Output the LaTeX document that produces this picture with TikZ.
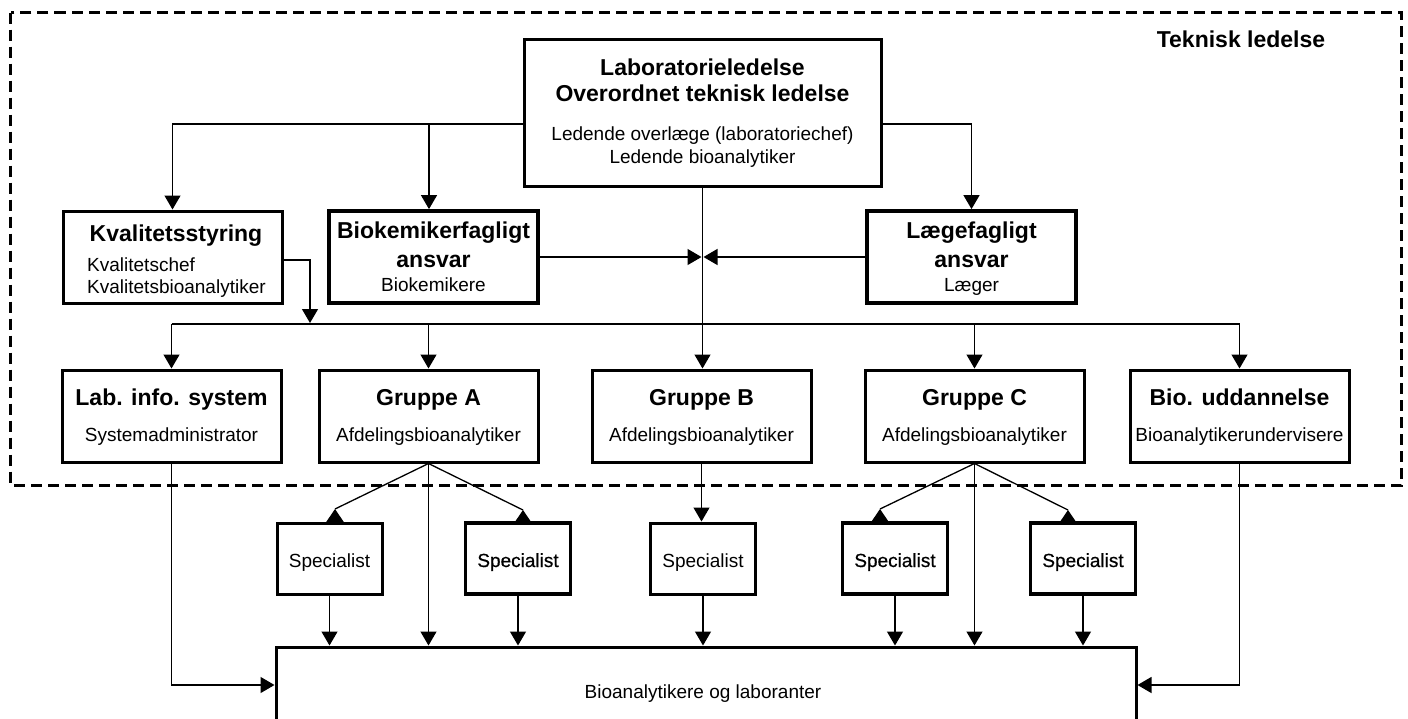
\documentclass[tikz,border=0pt]{standalone}
\usepackage{fontspec}
\setmainfont{Liberation Sans}
\newfontface\darkface{Liberation Sans}[FakeBold=0.6]
\usetikzlibrary{arrows.meta}

\begin{document}
\begin{tikzpicture}[x=1pt,y=-1pt,
  conn/.style={line width=1.3pt},
  arr/.style={conn,-{Triangle[width=16pt,length=14pt]}},
  box/.style={draw,rectangle,line width=3pt,inner sep=0pt},
  heavybox/.style={box,line width=3.8pt},
  frame/.style={line width=3pt,dash pattern=on 11pt off 6pt},
  hd/.style={font=\fontsize{23}{27}\selectfont\bfseries,anchor=base,inner sep=0pt},
  txt/.style={font=\fontsize{19}{22}\selectfont,anchor=base,inner sep=0pt},
  darktxt/.style={font=\fontsize{19}{22}\selectfont\darkface,anchor=base,inner sep=0pt},
  spec/.style={minimum width=105pt,minimum height=71pt}
]
\useasboundingbox (0,0) rectangle (1408,718);
\clip (0,0) rectangle (1408,718);

% technical management frame
\draw[frame] (10.5,12.5) rectangle (1401.5,485);
\node[hd] (tekn) at (1241,47) {Teknisk ledelse};

% boxes
\node[box,minimum width=357pt,minimum height=147pt] (lab) at (702.5,112.5) {};
\node[box,minimum width=219pt,minimum height=92pt] (kval) at (172.5,257) {};
\node[heavybox,minimum width=209pt,minimum height=92pt] (bio) at (433.5,257) {};
\node[heavybox,minimum width=209pt,minimum height=92pt] (laege) at (971.5,257) {};

\node[box,minimum width=219pt,minimum height=92pt] (lis) at (171.5,416) {};
\node[box,minimum width=219pt,minimum height=92pt] (grA) at (428.5,416) {};
\node[box,minimum width=219pt,minimum height=92pt] (grB) at (701.5,416) {};
\node[box,minimum width=219pt,minimum height=92pt] (grC) at (974.5,416) {};
\node[box,minimum width=219pt,minimum height=92pt] (bud) at (1239.5,416) {};

\node[box,spec] (s1) at (329.5,558.5) {};
\node[heavybox,spec] (s2) at (518,558.5) {};
\node[box,spec] (s3) at (703,558.5) {};
\node[heavybox,spec] (s4) at (895,558.5) {};
\node[heavybox,spec] (s5) at (1083,558.5) {};

\node[box,minimum width=860pt,minimum height=93pt] (base) at (706,693.5) {};

% texts
\node[hd] (lab1) at (702.5,75) {Laboratorieledelse};
\node[hd] (lab2) at (702.5,101) {Overordnet teknisk ledelse};
\node[txt] (lab3) at (702.5,140) {Ledende overlæge (laboratoriechef)};
\node[txt] (lab4) at (702.5,163) {Ledende bioanalytiker};

\node[hd] (kval1) at (176,241) {Kvalitetsstyring};
\node[txt,anchor=base west] (kval2) at (87,271) {Kvalitetschef};
\node[txt,anchor=base west] (kval3) at (87,293) {Kvalitetsbioanalytiker};

\node[hd] (bio1) at (433.5,238) {Biokemikerfagligt};
\node[hd] (bio2) at (433.5,267) {ansvar};
\node[txt] (bio3) at (433.5,291) {Biokemikere};

\node[hd] (laege1) at (971.5,238) {Lægefagligt};
\node[hd] (laege2) at (971.5,267) {ansvar};
\node[txt] (laege3) at (971.5,291) {Læger};

\node[hd] (lis1) at (171.5,405) {Lab. info. system};
\node[txt] (lis2) at (171.5,441) {Systemadministrator};
\node[hd] (grA1) at (428.5,405) {Gruppe A};
\node[txt] (grA2) at (428.5,441) {Afdelingsbioanalytiker};
\node[hd] (grB1) at (701.5,405) {Gruppe B};
\node[txt] (grB2) at (701.5,441) {Afdelingsbioanalytiker};
\node[hd] (grC1) at (974.5,405) {Gruppe C};
\node[txt] (grC2) at (974.5,441) {Afdelingsbioanalytiker};
\node[hd] (bud1) at (1239.5,405) {Bio. uddannelse};
\node[txt] (bud2) at (1239.5,441) {Bioanalytikerundervisere};

\node[txt] (s1t) at (329.5,567) {Specialist};
\node[darktxt] (s2t) at (518,567) {Specialist};
\node[txt] (s3t) at (703,567) {Specialist};
\node[darktxt] (s4t) at (895,567) {Specialist};
\node[darktxt] (s5t) at (1083,567) {Specialist};

\node[txt] (baset) at (703,698) {Bioanalytikere og laboranter};

% helper coordinates for buses and entry points
\coordinate (topbus) at (0,124);
\coordinate (midbus) at (0,324);
\coordinate (feed) at (0,685);
\coordinate (bioin) at ([xshift=-4.5pt]bio.north);
\coordinate (kvout) at ([yshift=-3pt]kval.east);
\coordinate (kvdrop) at (310,323);
\coordinate (a1) at (335,509);
\coordinate (a2) at (523,510);
\coordinate (a4) at (880,509);
\coordinate (a5) at (1068,510);

% top level
\draw[arr] (lab.west |- topbus) -| (kval.north);
\draw[arr] (bioin |- topbus) -- (bioin);
\draw[arr] (lab.east |- topbus) -| (laege.north);
\draw[arr] (lab.south) -- (lab.south |- grB.north);
\draw[arr,shorten >=1pt] (bio.east) -- (bio.east -| lab.south);
\draw[arr,shorten >=1pt] (laege.west) -- (laege.west -| lab.south);
\draw[arr] (kvout) -| (kvdrop);

% distribution bus
\draw[conn] (lis.north |- midbus) -- (bud.north |- midbus);
\foreach \b in {lis,grA,grC,bud}
  \draw[arr] (\b.north |- midbus) -- (\b.north);

% groups to specialists
\draw[conn] (grA.south) -- (a1);
\draw[conn] (grA.south) -- (a2);
\draw[conn] (grC.south) -- (a4);
\draw[conn] (grC.south) -- (a5);
\foreach \p in {a1,a2,a4,a5}
  \fill (\p) -- ++(-9.5,14) -- ++(19,0) -- cycle;
\draw[arr] (grB.south) -- (grB.south |- s3.north);

% down to the staff box
\draw[arr] (grA.south) -- (grA.south |- base.north);
\draw[arr] (grC.south) -- (grC.south |- base.north);
\foreach \s in {s1,s2,s3,s4,s5}
  \draw[arr] (\s.south) -- (\s.south |- base.north);
\draw[arr] (lis.south) |- (base.west |- feed);
\draw[arr] (bud.south) |- (base.east |- feed);
\end{tikzpicture}
\end{document}
